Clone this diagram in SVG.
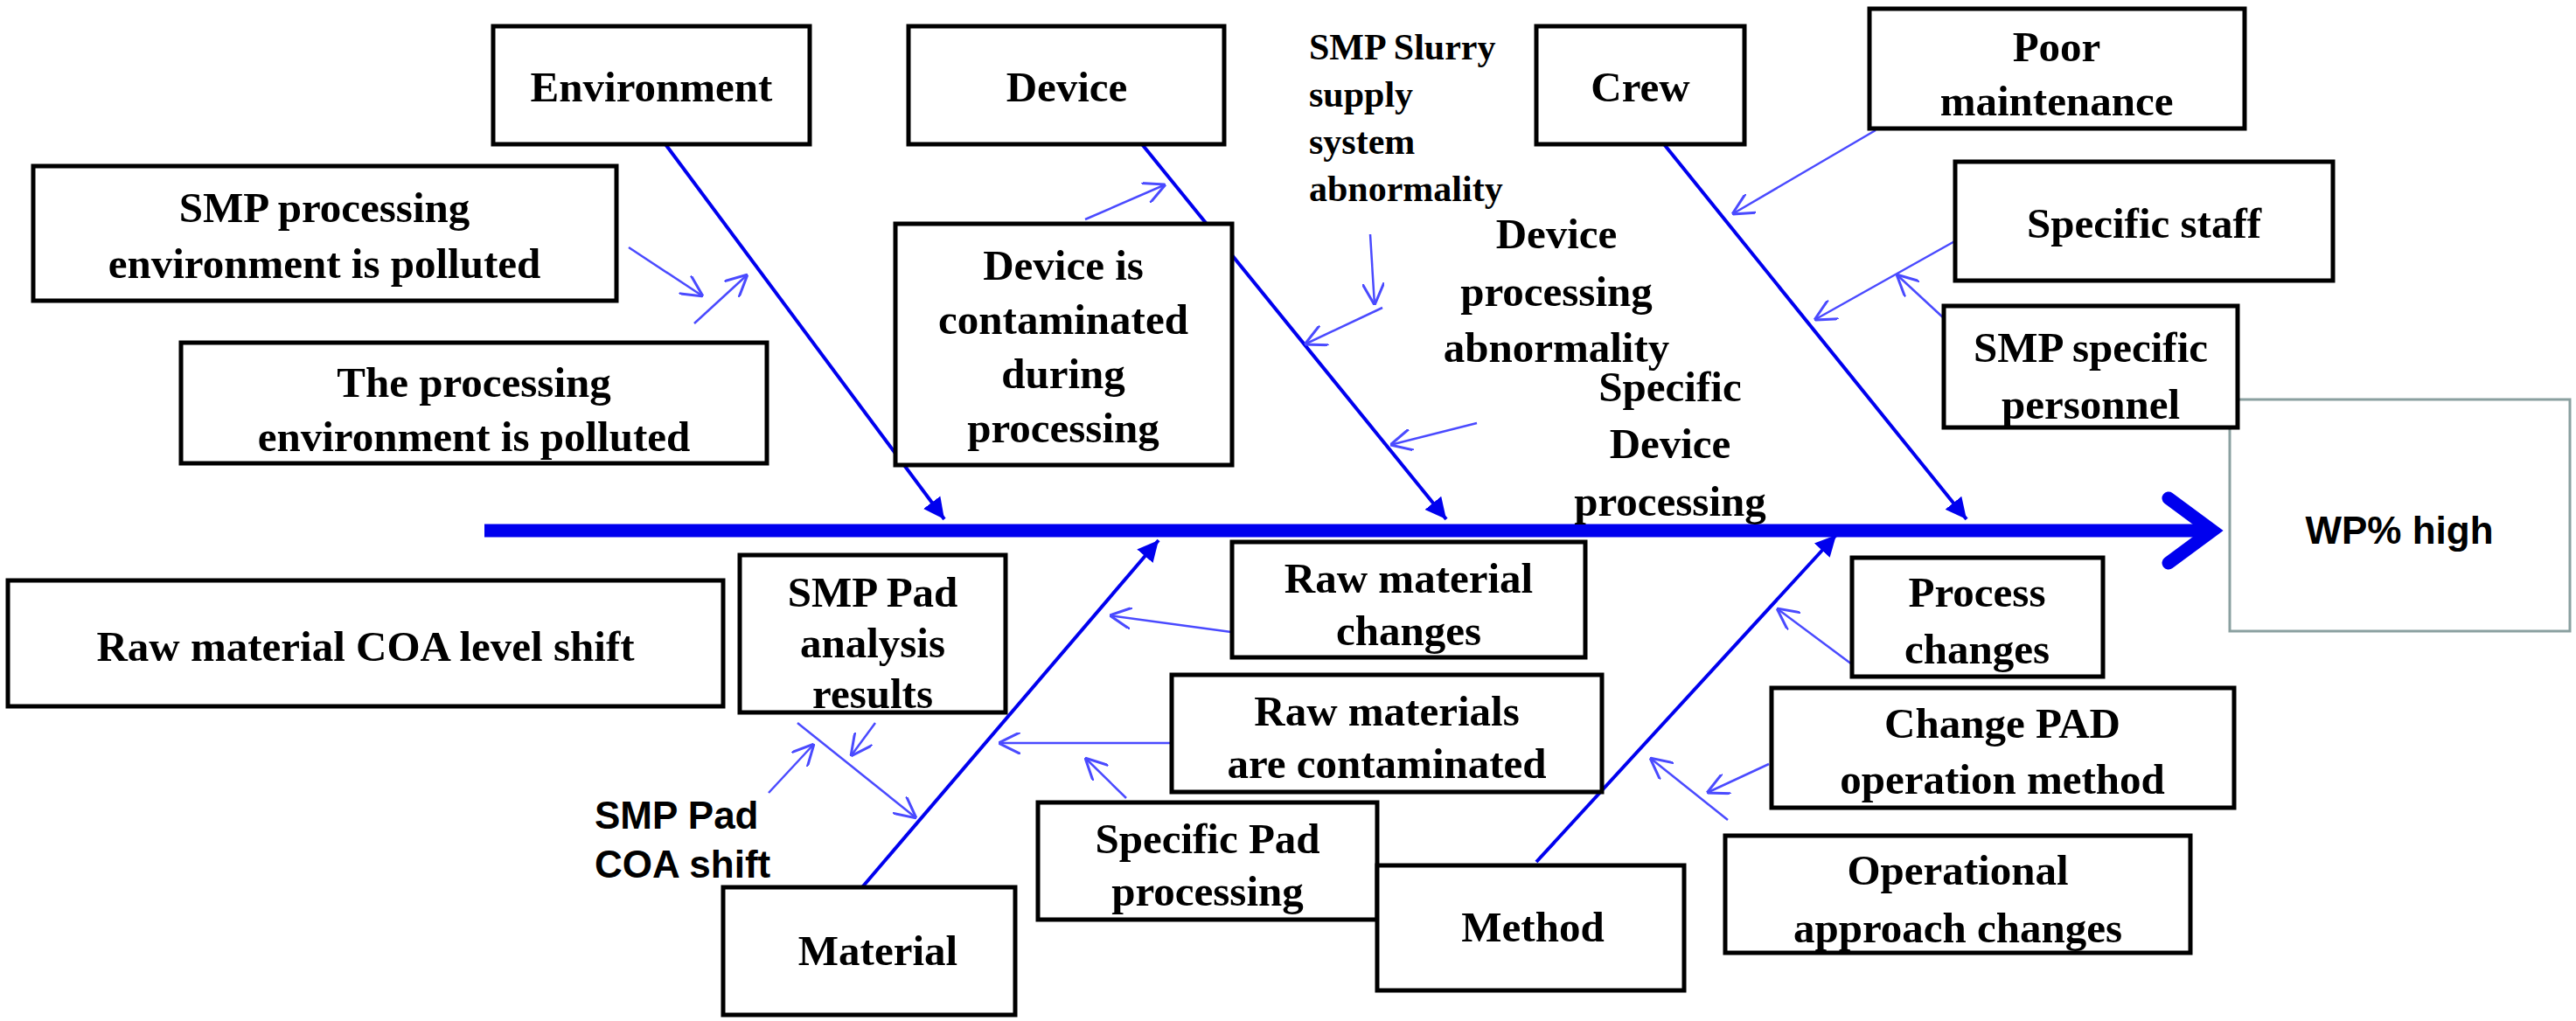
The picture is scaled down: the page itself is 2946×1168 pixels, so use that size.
<svg xmlns="http://www.w3.org/2000/svg" width="2946" height="1168" viewBox="0 0 2946 1168">
<style>
.b{fill:#fff;stroke:#000;stroke-width:5}
.t{font-family:"Liberation Serif",serif;font-weight:bold;font-size:49px;fill:#000;text-anchor:middle}
.s{font-family:"Liberation Serif",serif;font-weight:bold;font-size:42px;fill:#000}
.a{font-family:"Liberation Sans",sans-serif;font-weight:bold;font-size:44px;fill:#000}
.bone{stroke:#0000ee;stroke-width:4;fill:none;marker-end:url(#fh)}
.sm{stroke:#4a4aff;stroke-width:2.5;fill:none;marker-end:url(#oh)}
</style>
<defs>
<marker id="fh" viewBox="0 0 10 10" refX="10" refY="5" markerWidth="6" markerHeight="8" orient="auto" markerUnits="strokeWidth"><path d="M0,0L10,5L0,10z" fill="#0000ee"/></marker>
<marker id="oh" viewBox="0 0 10 10" refX="10" refY="5" markerWidth="10" markerHeight="10" orient="auto" markerUnits="strokeWidth"><path d="M0,0L10,5L0,10" fill="none" stroke="#4a4aff" stroke-width="1.2"/></marker>
</defs>
<rect width="2946" height="1168" fill="#fff"/>
<g id="connectors">
<line x1="554" y1="607" x2="2520" y2="607" stroke="#0000ee" stroke-width="15"/>
<path d="M2480,570L2530,607L2480,644" fill="none" stroke="#0000ee" stroke-width="15" stroke-linecap="round"/>
<line class="bone" x1="761" y1="165" x2="1080" y2="594"/>
<line class="bone" x1="1306" y1="165" x2="1654" y2="594"/>
<line class="bone" x1="1903" y1="165" x2="2249" y2="594"/>
<line class="bone" x1="986" y1="1015" x2="1325" y2="618"/>
<line class="bone" x1="1757" y1="986" x2="2100" y2="612"/>
<line class="sm" x1="719" y1="283" x2="804" y2="339"/>
<line class="sm" x1="794" y1="370" x2="855" y2="314"/>
<line class="sm" x1="1241" y1="251" x2="1333" y2="211"/>
<line class="sm" x1="1567" y1="268" x2="1572" y2="349"/>
<line class="sm" x1="1581" y1="352" x2="1492" y2="394"/>
<line class="sm" x1="1689" y1="484" x2="1590" y2="509"/>
<line class="sm" x1="2145" y1="149" x2="1981" y2="245"/>
<line class="sm" x1="2239" y1="274" x2="2075" y2="366"/>
<line class="sm" x1="2223" y1="364" x2="2169" y2="314"/>
<line class="sm" x1="1408" y1="723" x2="1269" y2="704"/>
<line class="sm" x1="1344" y1="850" x2="1142" y2="850"/>
<line class="sm" x1="1288" y1="913" x2="1241" y2="867"/>
<line class="sm" x1="1001" y1="827" x2="973" y2="865"/>
<line class="sm" x1="912" y1="827" x2="1048" y2="936"/>
<line class="sm" x1="879" y1="907" x2="931" y2="851"/>
<line class="sm" x1="2122" y1="763" x2="2032" y2="696"/>
<line class="sm" x1="2023" y1="874" x2="1952" y2="907"/>
<line class="sm" x1="1976" y1="938" x2="1887" y2="867"/>
</g>
<g id="wp"><rect x="2550" y="457" width="389" height="265" fill="#fff" stroke="#8aa0a0" stroke-width="3"/><text x="2744" y="622" class="a" text-anchor="middle" font-size="60">WP% high</text></g>
<g id="environment"><rect class="b" x="564" y="30" width="362" height="135"/><text class="t" x="745" y="116">Environment</text></g>
<g id="device"><rect class="b" x="1039" y="30" width="361" height="135"/><text class="t" x="1220" y="116">Device</text></g>
<g id="crew"><rect class="b" x="1757" y="30" width="238" height="135"/><text class="t" x="1876" y="116">Crew</text></g>
<g id="poor"><rect class="b" x="2138" y="10" width="429" height="137"/><text class="t" x="2352" y="70">Poor</text><text class="t" x="2352" y="132">maintenance</text></g>
<g id="staff"><rect class="b" x="2236" y="185" width="432" height="136"/><text class="t" x="2452" y="272">Specific staff</text></g>
<g id="smppers"><rect class="b" x="2223" y="350" width="336" height="139"/><text class="t" x="2391" y="414">SMP specific</text><text class="t" x="2391" y="479">personnel</text></g>
<g id="smpenv"><rect class="b" x="38" y="190" width="667" height="154"/><text class="t" x="371" y="254">SMP processing</text><text class="t" x="371" y="318">environment is polluted</text></g>
<g id="procenv"><rect class="b" x="207" y="392" width="670" height="138"/><text class="t" x="542" y="454">The processing</text><text class="t" x="542" y="516">environment is polluted</text></g>
<g id="devcont"><rect class="b" x="1024" y="256" width="385" height="276"/><text class="t" x="1216" y="320">Device is</text><text class="t" x="1216" y="382">contaminated</text><text class="t" x="1216" y="444">during</text><text class="t" x="1216" y="506">processing</text></g>
<g id="slurry"><text class="s" x="1497" y="68">SMP Slurry</text><text class="s" x="1497" y="122">supply</text><text class="s" x="1497" y="176">system</text><text class="s" x="1497" y="230">abnormality</text></g>
<g id="devproc"><text class="t" x="1780" y="284">Device</text><text class="t" x="1780" y="350">processing</text><text class="t" x="1780" y="414">abnormality</text></g>
<g id="specdev"><text class="t" x="1910" y="459">Specific</text><text class="t" x="1910" y="524">Device</text><text class="t" x="1910" y="590">processing</text></g>
<g id="coalevel"><rect class="b" x="9" y="664" width="818" height="144"/><text class="t" x="418" y="756">Raw material COA level shift</text></g>
<g id="padres"><rect class="b" x="846" y="635" width="304" height="180"/><text class="t" x="998" y="694">SMP Pad</text><text class="t" x="998" y="752">analysis</text><text class="t" x="998" y="810">results</text></g>
<g id="padcoa"><text class="a" x="680" y="948">SMP Pad</text><text class="a" x="680" y="1004">COA shift</text></g>
<g id="rawchg"><rect class="b" x="1409" y="620" width="404" height="132"/><text class="t" x="1611" y="678">Raw material</text><text class="t" x="1611" y="738">changes</text></g>
<g id="rawcont"><rect class="b" x="1340" y="772" width="492" height="134"/><text class="t" x="1586" y="830">Raw materials</text><text class="t" x="1586" y="890">are contaminated</text></g>
<g id="specpad"><rect class="b" x="1187" y="918" width="388" height="134"/><text class="t" x="1381" y="976">Specific Pad</text><text class="t" x="1381" y="1036">processing</text></g>
<g id="material"><rect class="b" x="827" y="1015" width="334" height="146"/><text class="t" x="1004" y="1104">Material</text></g>
<g id="method"><rect class="b" x="1575" y="990" width="351" height="143"/><text class="t" x="1753" y="1077">Method</text></g>
<g id="procchg"><rect class="b" x="2118" y="638" width="287" height="136"/><text class="t" x="2261" y="694">Process</text><text class="t" x="2261" y="759">changes</text></g>
<g id="padop"><rect class="b" x="2026" y="787" width="529" height="137"/><text class="t" x="2290" y="844">Change PAD</text><text class="t" x="2290" y="908">operation method</text></g>
<g id="opappr"><rect class="b" x="1973" y="956" width="532" height="134"/><text class="t" x="2239" y="1012">Operational</text><text class="t" x="2239" y="1078">approach changes</text></g>
</svg>
